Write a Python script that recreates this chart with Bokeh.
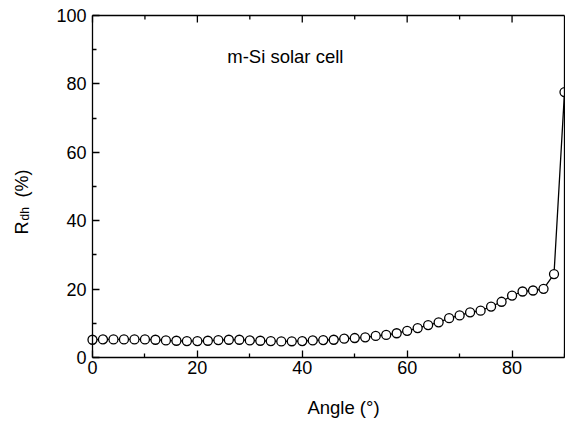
from bokeh.plotting import figure
from bokeh.models import Range1d, LinearAxis, Label, FixedTicker
from bokeh.embed import file_html
from bokeh.resources import INLINE

angles = [0, 2, 4, 6, 8, 10, 12, 14, 16, 18, 20, 22, 24, 26, 28, 30, 32, 34, 36, 38,
          40, 42, 44, 46, 48, 50, 52, 54, 56, 58, 60, 62, 64, 66, 68, 70, 72, 74, 76, 78,
          80, 82, 84, 86, 88, 90]
rdh = [5.2, 5.3, 5.3, 5.3, 5.3, 5.3, 5.2, 5.0, 4.9, 4.8, 4.8, 4.9, 5.1, 5.2, 5.2, 5.0,
       4.9, 4.8, 4.7, 4.75, 4.8, 5.0, 5.1, 5.2, 5.5, 5.7, 5.9, 6.3, 6.6, 7.1, 7.8, 8.6,
       9.5, 10.3, 11.5, 12.3, 13.2, 13.7, 14.9, 16.3, 18.1, 19.3, 19.6, 20.1, 24.4, 77.6]
x_ticks = [0, 20, 40, 60, 80]
x_minor = [10, 30, 50, 70, 90]
y_ticks = [0, 20, 40, 60, 80, 100]
y_minor = [10, 30, 50, 70, 90]
annotation = "m-Si solar cell"
x_label = "Angle (°)"
y_label_main = "R"
y_label_sub = "dh"
y_label_unit = "(%)"

FONT = "Liberation Sans"
X0, X1 = 0, 90
Y0, Y1 = 0, 100

# frame covers the whole canvas; axes are pinned at the data edges
p = figure(width=565, height=422, output_backend="svg", toolbar_location=None,
           x_range=Range1d(-17.54, 90.19), y_range=Range1d(-19.0, 104.39),
           min_border=0, min_border_left=0, min_border_right=0,
           min_border_top=0, min_border_bottom=0,
           x_axis_location=None, y_axis_location=None)
p.grid.visible = False
p.outline_line_color = None
p.background_fill_color = "white"
p.border_fill_color = "white"

def style(ax):
    ax.axis_line_color = "black"
    ax.axis_line_width = 1.3
    ax.major_tick_line_color = "black"
    ax.minor_tick_line_color = "black"
    ax.major_tick_line_width = 1.3
    ax.minor_tick_line_width = 1.3
    ax.major_tick_in = 7
    ax.major_tick_out = 0
    ax.minor_tick_in = 4
    ax.minor_tick_out = 0
    ax.major_label_text_font = FONT
    ax.major_label_text_color = "black"
    ax.major_label_text_font_size = "18px"

xb = LinearAxis(ticker=FixedTicker(ticks=x_ticks, minor_ticks=x_minor),
                fixed_location=Y0, bounds=(X0, X1))
style(xb)
xb.major_label_standoff = 3
p.add_layout(xb, "below")

yl = LinearAxis(ticker=FixedTicker(ticks=y_ticks, minor_ticks=y_minor),
                fixed_location=X0, bounds=(Y0, Y1))
style(yl)
yl.major_label_standoff = 6
p.add_layout(yl, "left")

# top and right frame lines
xt = LinearAxis(ticker=FixedTicker(ticks=[]), fixed_location=Y1, bounds=(X0, X1))
style(xt)
p.add_layout(xt, "above")
yr = LinearAxis(ticker=FixedTicker(ticks=[]), fixed_location=X1, bounds=(Y0, Y1))
style(yr)
p.add_layout(yr, "right")

# top inward ticks
p.segment(x0=x_ticks, x1=x_ticks, y0=[Y1] * len(x_ticks), y1=[Y1 - 2.05] * len(x_ticks),
          line_color="black", line_width=1.3)
p.segment(x0=x_minor[:-1], x1=x_minor[:-1], y0=[Y1] * 4, y1=[Y1 - 1.2] * 4,
          line_color="black", line_width=1.3)

p.line(angles, rdh, line_color="black", line_width=1.3)
p.scatter(angles, rdh, size=9, marker="circle", fill_color="white",
          line_color="black", line_width=1.3)

p.add_layout(Label(x=25.7, y=88.0, text=annotation, text_font=FONT,
                   text_font_size="18.5px", text_baseline="middle", text_align="left",
                   text_color="black"))

p.add_layout(Label(x=47.86, y=-14.6, text=x_label, text_font=FONT,
                   text_font_size="18.5px", text_baseline="alphabetic", text_align="center",
                   text_color="black"))

p.add_layout(Label(x=-13.35, y=36.0, text=y_label_main, angle=90, angle_units="deg",
                   text_font=FONT, text_font_size="18px", text_baseline="alphabetic",
                   text_align="left", text_color="black"))
p.add_layout(Label(x=-12.95, y=40.1, text=y_label_sub, angle=90, angle_units="deg",
                   text_font=FONT, text_font_size="12px", text_baseline="alphabetic",
                   text_align="left", text_color="black"))
p.add_layout(Label(x=-13.35, y=46.8, text=y_label_unit, angle=90, angle_units="deg",
                   text_font=FONT, text_font_size="18px", text_baseline="alphabetic",
                   text_align="left", text_color="black"))

open("out.html", "w").write(file_html(p, INLINE))
